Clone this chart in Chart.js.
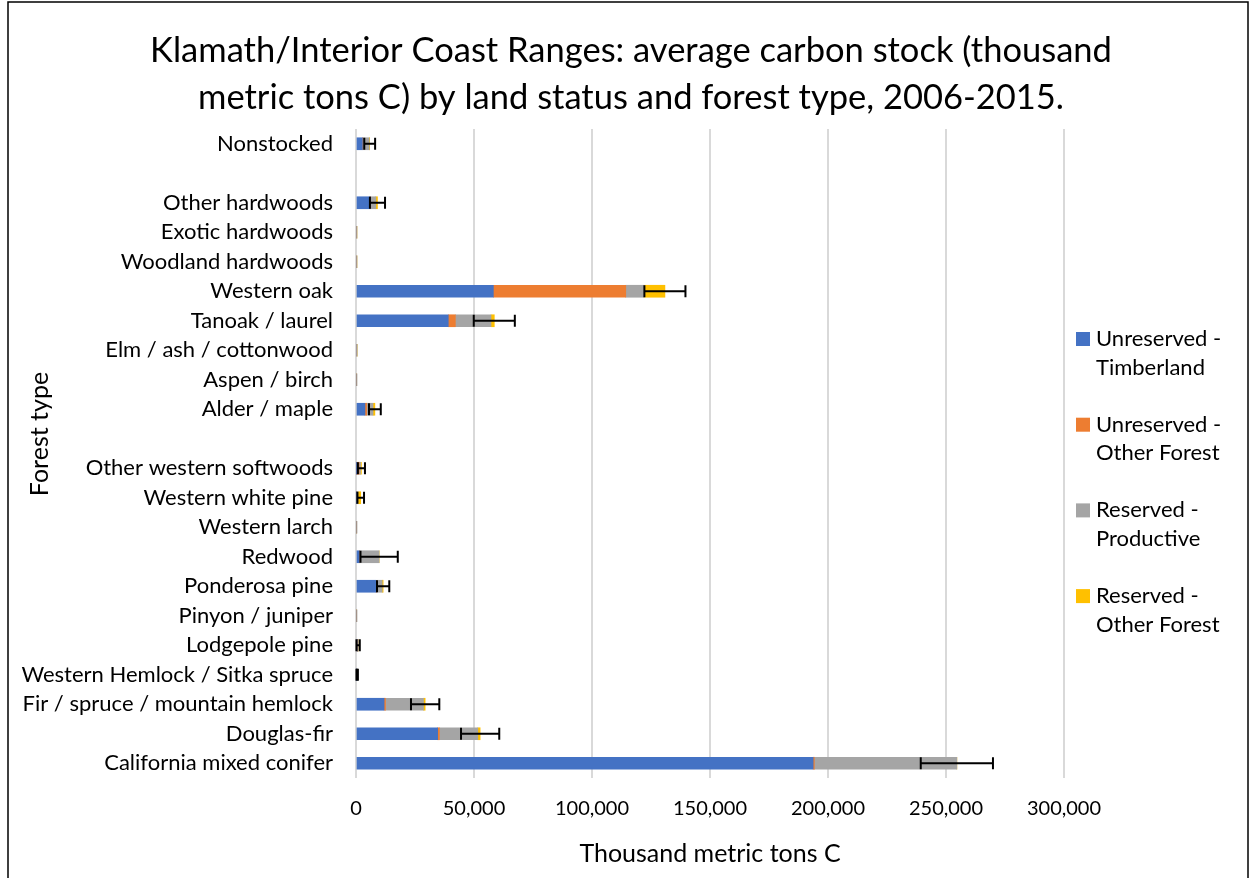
<!DOCTYPE html>
<html lang="en">
<head>
    <meta charset="UTF-8">
    <title>Klamath/Interior Coast Ranges carbon stock</title>
    <script src="https://cdn.jsdelivr.net/npm/chart.js"></script>
    <style>
        body { margin: 0; background: #fff; }
        #wrap { width: 1253px; height: 878px; position: relative; }
    </style>
</head>
<body>
    <div id="wrap">
        <canvas id="grafico" width="1253" height="878"></canvas>
    </div>

    <script>
        // Forest types, top to bottom (blank entries are spacer rows)
        const categories = [
            'Nonstocked', '', 'Other hardwoods', 'Exotic hardwoods', 'Woodland hardwoods',
            'Western oak', 'Tanoak / laurel', 'Elm / ash / cottonwood', 'Aspen / birch',
            'Alder / maple', '', 'Other western softwoods', 'Western white pine',
            'Western larch', 'Redwood', 'Ponderosa pine', 'Pinyon / juniper',
            'Lodgepole pine', 'Western Hemlock / Sitka spruce',
            'Fir / spruce / mountain hemlock', 'Douglas-fir', 'California mixed conifer'
        ];
        const seriesNames = [
            'Unreserved - Timberland', 'Unreserved - Other Forest',
            'Reserved - Productive', 'Reserved - Other Forest'
        ];
        const unresTimber = [2700, null, 6000, 0, 0, 58200, 39100, 0, 0, 3800, null, 200, 200, 0, 1400, 8500, 0, 500, 100, 11900, 34600, 193700];
        const unresOther = [200, null, 200, 0, 0, 56100, 3000, 0, 0, 700, null, 1100, 100, 0, 100, 200, 0, 100, 0, 600, 700, 500];
        const resProductive = [2700, null, 2200, 400, 400, 7700, 15100, 500, 300, 2700, null, 600, 500, 300, 8300, 2400, 300, 300, 400, 16100, 16300, 60400];
        const resOther = [200, null, 700, 0, 0, 8900, 1400, 0, 0, 800, null, 400, 1200, 0, 0, 400, 0, 0, 0, 700, 1000, 0];
        // +/- error on the stacked total
        const errMargin = [2300, null, 3200, 0, 0, 8700, 8700, 0, 0, 2500, null, 1500, 1400, 0, 7900, 2600, 0, 700, 300, 6000, 8100, 15300];
        const xTicks = [0, 50000, 100000, 150000, 200000, 250000, 300000];

        const titulo = ['Klamath/Interior Coast Ranges: average carbon stock (thousand',
                        'metric tons C) by land status and forest type, 2006-2015.'];
        const tituloY = 'Forest type';

        const colores = ['#4472C4', '#ED7D31', '#A5A5A5', '#FFC000'];
        const series = [unresTimber, unresOther, resProductive, resOther];

        // error bars centred on the end of each stack
        const errorBars = {
            id: 'errorBars',
            afterDatasetsDraw(chart) {
                const ctx = chart.ctx;
                const x = chart.scales.x, y = chart.scales.y;
                ctx.save();
                ctx.strokeStyle = '#000';
                ctx.lineWidth = 2;
                categories.forEach((c, i) => {
                    const e = errMargin[i];
                    if (!e) return;
                    const total = series.reduce((s, arr) => s + (arr[i] || 0), 0);
                    const x1 = x.getPixelForValue(total - e);
                    const x2 = x.getPixelForValue(total + e);
                    const yc = y.getPixelForValue(i);
                    ctx.beginPath();
                    ctx.moveTo(x1, yc); ctx.lineTo(x2, yc);
                    ctx.moveTo(x1, yc - 6); ctx.lineTo(x1, yc + 6);
                    ctx.moveTo(x2, yc - 6); ctx.lineTo(x2, yc + 6);
                    ctx.stroke();
                });
                ctx.restore();
            }
        };

        // title, y-axis title, two-line legend and outer frame
        const extras = {
            id: 'extras',
            afterDraw(chart) {
                const ctx = chart.ctx;
                ctx.save();
                ctx.fillStyle = '#000';
                ctx.textBaseline = 'middle';
                ctx.textAlign = 'center';
                ctx.font = '34.5px Lato';
                ctx.fillText(titulo[0], 631, 51);
                ctx.fillText(titulo[1], 631, 98);

                ctx.save();
                ctx.translate(40, 434);
                ctx.rotate(-Math.PI / 2);
                ctx.font = '25px Lato';
                ctx.fillText(tituloY, 0, 0);
                ctx.restore();

                ctx.font = '22px Lato';
                ctx.textAlign = 'left';
                chart.data.datasets.forEach((ds, i) => {
                    const top = 339 + i * 85.7;
                    ctx.fillStyle = ds.backgroundColor;
                    ctx.fillRect(1076, top - 7, 14, 14);
                    ctx.fillStyle = '#000';
                    const partes = ds.label.split(' - ');
                    ctx.fillText(partes[0] + ' -', 1096, top);
                    ctx.fillText(partes[1], 1096, top + 28.7);
                });
                ctx.strokeStyle = '#000';
                ctx.lineWidth = 1.5;
                ctx.strokeRect(8, 2, 1240, 900);
                ctx.restore();
            }
        };

        new Chart(document.getElementById('grafico'), {
            type: 'bar',
            data: {
                labels: categories,
                datasets: seriesNames.map((nombre, i) => ({
                    label: nombre,
                    data: series[i],
                    backgroundColor: colores[i],
                    barThickness: 12
                }))
            },
            options: {
                indexAxis: 'y',
                responsive: false,
                animation: false,
                layout: { padding: { top: 129, right: 189, left: 0, bottom: 0 } },
                plugins: {
                    legend: { display: false },
                    tooltip: { enabled: false },
                    title: { display: false }
                },
                scales: {
                    x: {
                        stacked: true,
                        min: 0,
                        max: 300000,
                        afterBuildTicks: (scale) => { scale.ticks = xTicks.map(v => ({ value: v })); },
                        afterFit: (scale) => { scale.height = 100; },
                        grid: { color: '#d9d9d9', lineWidth: 2, drawTicks: false },
                        border: { display: false },
                        ticks: {
                            color: '#000',
                            padding: 19,
                            font: { family: 'Lato', size: 20 },
                            callback: (v) => v.toLocaleString('en-US')
                        },
                        title: {
                            display: true,
                            text: 'Thousand metric tons C',
                            color: '#000',
                            font: { family: 'Lato', size: 25 },
                            padding: { bottom: 9 }
                        }
                    },
                    y: {
                        stacked: true,
                        afterFit: (scale) => { scale.width = 356; },
                        grid: { display: false, drawTicks: false },
                        border: { display: false },
                        ticks: {
                            color: '#000',
                            padding: 23,
                            autoSkip: false,
                            font: { family: 'Lato', size: 22 }
                        }
                    }
                }
            },
            plugins: [errorBars, extras]
        });
    </script>
</body>
</html>
